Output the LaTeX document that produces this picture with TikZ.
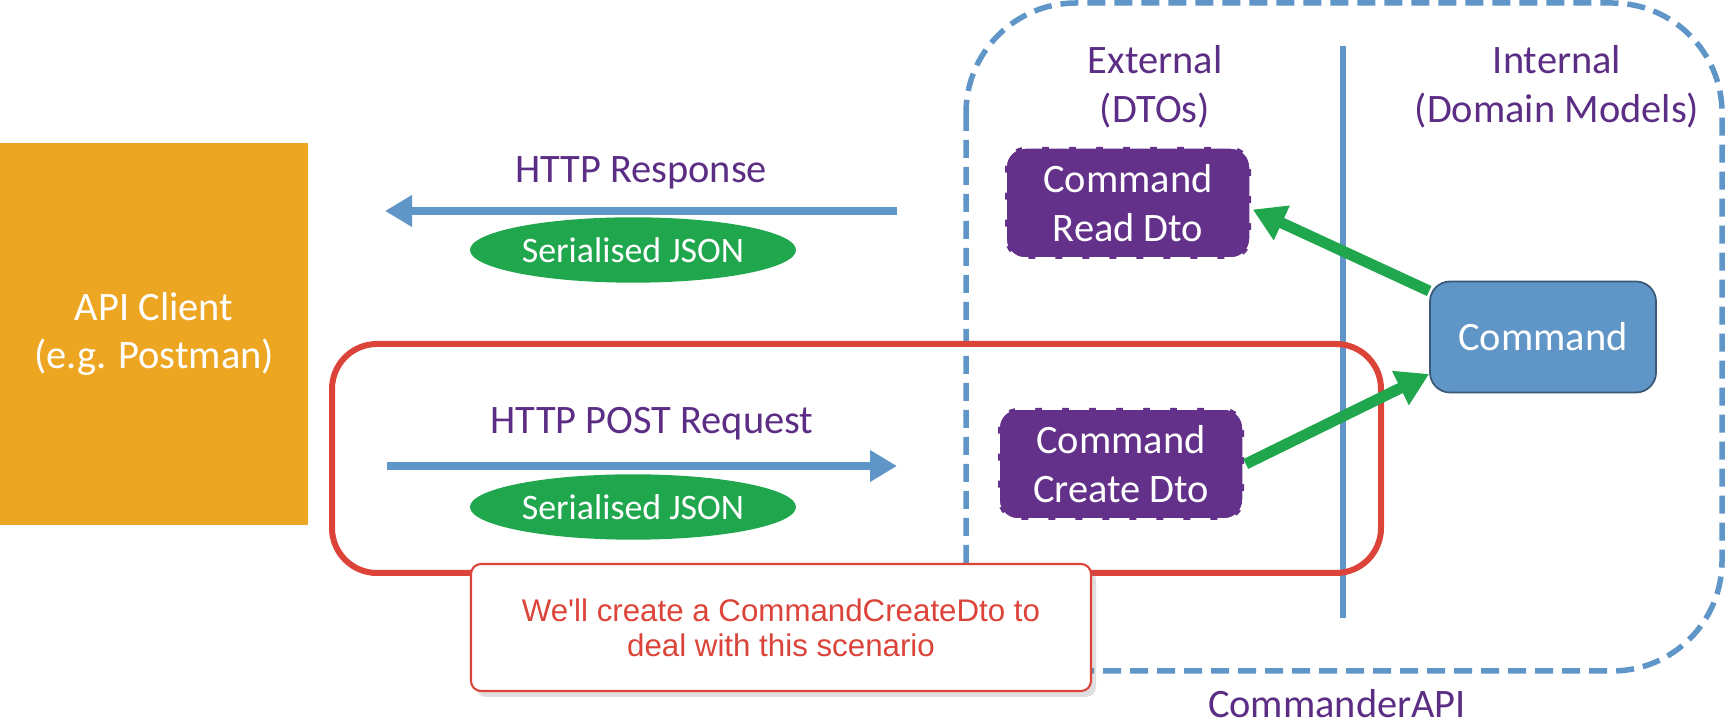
\documentclass[tikz,border=0pt]{standalone}
\usepackage{fontspec}
\setmainfont{Carlito}
\newfontfamily\notefont{Liberation Sans}
\usetikzlibrary{arrows.meta,positioning,shapes.geometric,shadows}
\definecolor{cliorange}{HTML}{EDA622}
\definecolor{apiblue}{HTML}{5F95C7}
\definecolor{dtopurple}{HTML}{64318A}
\definecolor{lblpurple}{HTML}{5B2D84}
\definecolor{jsongreen}{HTML}{20A74E}
\definecolor{scenred}{HTML}{DC443A}

\begin{document}
\begin{tikzpicture}[x=0.1mm,y=-0.1mm,
  every node/.style={font=\fontsize{11.5}{13.8}\selectfont},
  lbl/.style={text=lblpurple,align=center},
  client/.style={fill=cliorange,text=white,align=center,minimum width=30.8mm,minimum height=38.2mm},
  dto/.style={fill=dtopurple,draw=white,line width=1pt,dash pattern=on 2mm off 0.7mm,rounded corners=2mm,text=white,align=center,minimum width=24.6mm,minimum height=11.2mm},
  model/.style={fill=apiblue,draw=apiblue!60!black,line width=0.5pt,rounded corners=2mm,text=white,minimum width=22.6mm,minimum height=11.1mm},
  json/.style={ellipse,fill=jsongreen,text=white,inner xsep=0pt,inner ysep=3pt,minimum width=32.6mm,minimum height=5.2mm,font=\fontsize{10.2}{12}\selectfont},
  note/.style={fill=white,draw=scenred,line width=0.6pt,rounded corners=1mm,align=center,text=scenred,minimum width=62mm,minimum height=12.7mm,
    drop shadow={opacity=0.25,shadow xshift=0.5mm,shadow yshift=-0.6mm},font=\notefont\fontsize{8.9}{10}\selectfont},
  flow/.style={-{Triangle[length=2.7mm,width=3mm]},apiblue,line width=0.8mm},
  map/.style={-{Triangle[length=3.2mm,width=3.6mm]},jsongreen,line width=1.1mm}]
\useasboundingbox (0,0) rectangle (1725,728);
% service boundary
\draw[apiblue,line width=0.55mm,dash pattern=on 1.8mm off 0.9mm,rounded corners=11mm] (966,3) rectangle (1722,671);
\node[lbl] (api) at (1337,704) {CommanderAPI};
\draw[apiblue,line width=0.65mm] (1343,46) -- (1343,618);
\node[lbl] (ext) at (1155,87) {External\\(DTOs)};
\node[lbl] (int) at (1557,87) {Internal\\(Domain Models)};
% scenario frame
\draw[scenred,line width=0.6mm,rounded corners=4.5mm] (332,344) rectangle (1381,573);
\node[client] (cli) at (154,334) {API Client\\(e.g. Postman)};
% response
\node[lbl] (resp) at (641,173) {HTTP Response};
\coordinate (rs) at (897,211);
\coordinate (re) at (385,211);
\draw[flow] (rs) -- (re);
\node[json] (j1) at (633,250) {Serialised JSON};
% request
\node[lbl] (req) at (652,424) {HTTP POST Request};
\coordinate (qs) at (387,466);
\coordinate (qe) at (897,466);
\draw[flow] (qs) -- (qe);
\node[json] (j2) at (633,507) {Serialised JSON};
% models
\node[dto] (rd) at (1128,203) {Command\\Read Dto};
\node[dto] (cd) at (1121,464) {Command\\Create Dto};
\node[model] (cmd) at (1543,337) {Command};
\draw[map] (cmd.158) -- (rd.-3);
\draw[map] (cd.east) -- (cmd.198);
\node[note] (nt) at (781,627.5) {We'll create a CommandCreateDto to\\deal with this scenario};
\end{tikzpicture}
\end{document}
